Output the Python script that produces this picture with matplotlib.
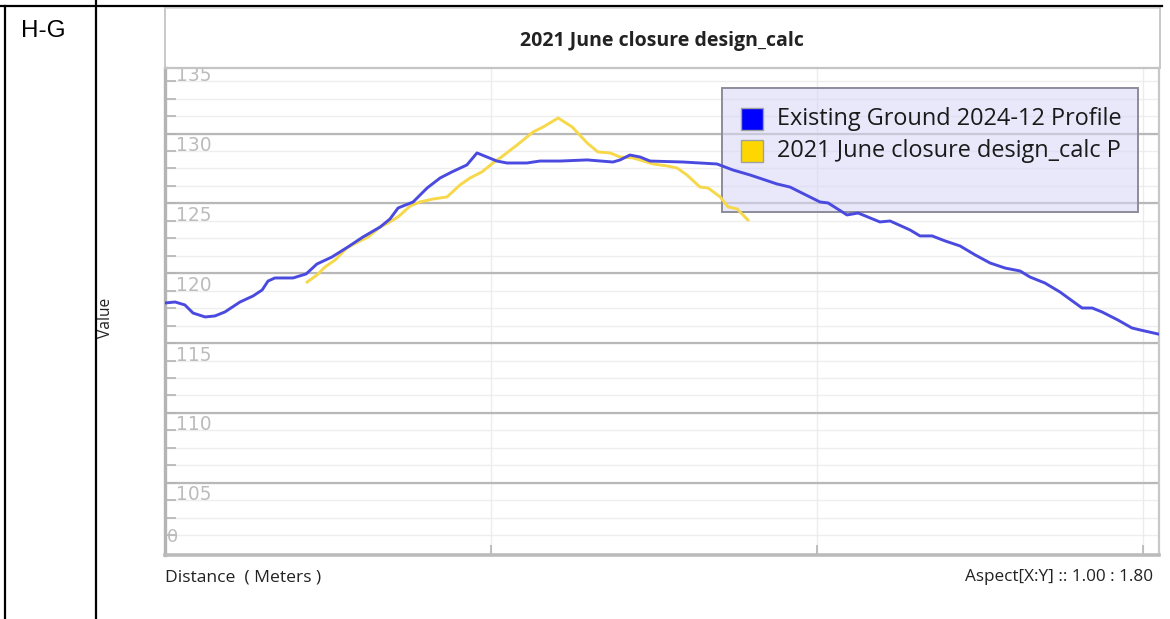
import numpy as np
import matplotlib
matplotlib.use("Agg")
import matplotlib.pyplot as plt
from matplotlib.lines import Line2D
from matplotlib.patches import Rectangle
import matplotlib.transforms as mtransforms

# profile data (distance m, elevation)
dist_eg = [0.0, 3.1, 6.1, 8.6, 12.3, 15.3, 18.4, 23.0, 27.0, 29.8, 31.6, 33.7, 39.3, 43.3,
           46.6, 51.2, 56.1, 60.7, 66.0, 69.0, 71.5, 76.1, 80.4, 84.4, 88.0, 92.6, 95.7,
           101.8, 104.9, 111.0, 115.0, 121.2, 129.5, 137.4, 139.6, 142.6, 145.7, 148.8,
           158.9, 169.3, 174.2, 179.5, 187.7, 191.7, 200.9, 203.4, 209.2, 212.6, 219.3,
           222.4, 228.5, 231.6, 235.3, 239.3, 243.9, 248.5, 253.1, 257.7, 262.3, 265.3,
           269.9, 274.5, 281.3, 284.4, 287.4, 292.3, 296.6, 299.1, 304.6]
elev_eg = [119.12, 119.19, 118.98, 118.40, 118.12, 118.19, 118.48, 119.19, 119.62, 120.05,
           120.69, 120.91, 120.91, 121.20, 121.91, 122.41, 123.13, 123.84, 124.56, 125.13,
           125.92, 126.35, 127.35, 128.07, 128.50, 129.00, 129.86, 129.28, 129.14, 129.14,
           129.28, 129.28, 129.36, 129.21, 129.36, 129.71, 129.57, 129.28, 129.21, 129.07,
           128.64, 128.28, 127.64, 127.42, 126.35, 126.28, 125.42, 125.56, 124.92, 124.99,
           124.35, 123.92, 123.92, 123.56, 123.20, 122.56, 121.98, 121.62, 121.41, 120.98,
           120.55, 119.91, 118.76, 118.76, 118.48, 117.90, 117.33, 117.19, 116.90]

dist_design = [43.6, 46.6, 49.1, 52.2, 55.8, 59.2, 62.3, 66.0, 68.4, 71.5, 75.2, 78.2, 82.2,
               86.5, 90.5, 93.6, 97.2, 100.6, 102.8, 108.0, 112.9, 116.0, 120.6, 124.9,
               129.5, 132.8, 136.5, 139.6, 143.6, 149.7, 154.0, 157.1, 160.1, 164.1, 166.6,
               170.3, 172.7, 175.5, 178.8]
elev_design = [120.62, 121.12, 121.70, 122.20, 123.06, 123.49, 123.84, 124.56, 124.85, 125.28,
               126.06, 126.35, 126.56, 126.71, 127.57, 128.07, 128.50, 129.14, 129.50, 130.43,
               131.36, 131.72, 132.36, 131.72, 130.57, 129.93, 129.86, 129.57, 129.50, 129.07,
               128.93, 128.78, 128.28, 127.42, 127.35, 126.71, 126.00, 125.85, 125.06]

series_names = ["Existing Ground 2024-12 Profile", "2021 June closure design_calc P"]
y_labels = [105, 110, 115, 120, 125, 130, 135]

W, H = 1170, 619
def fx(px):
    return px / W
def fy(py):
    return 1 - py / H

plt.rcParams['font.family'] = ['Open Sans', 'DejaVu Sans']
fig = plt.figure(figsize=(W / 100, H / 100), dpi=100)
ax = fig.add_axes([fx(165), fy(555), fx(1159) - fx(165), fy(68) - fy(555)])

ax.plot(dist_eg, elev_eg, color='#4a4ae0', lw=2.1, zorder=4)
ax.plot(dist_design, elev_design, color='#f6d84a', lw=2.1, zorder=3)

ax.set_xlim(0, 304.9)
ax.set_ylim(101.08, 135.94)

# grid: light every 1.25, darker every 5 (offset from the labels like the original)
for v in np.arange(102.5, 135.5, 1.25):
    ax.axhline(v, color='#eeeeee', lw=1.0, zorder=0)
for v in np.arange(106.25, 135, 5):
    ax.axhline(v, color='#b8b8b8', lw=1.6, zorder=1)
for v in [100, 200, 300]:
    ax.axvline(v, color='#ececec', lw=1.0, zorder=0)

ax.set_yticks(y_labels)
ax.set_yticklabels([str(v) for v in y_labels])
ax.set_yticks(np.arange(102.5, 135.5, 1.25), minor=True)
ax.tick_params(axis='y', which='both', direction='in', length=8, width=1.2, color='#b4b4b4',
               pad=-8, labelsize=13.4, labelcolor='#bcbcbc')
for lab in ax.get_yticklabels():
    lab.set_ha('left')
    lab.set_va('baseline')
    lab.set_family('DejaVu Sans')
ax.set_xticks([100, 200, 300])
ax.set_xticklabels([])
ax.tick_params(axis='x', direction='in', length=7, width=1.2, color='#b4b4b4')

trans = mtransforms.blended_transform_factory(ax.transAxes, ax.transData)
ax.text(0.002, 102.0, "0", transform=trans, ha='left', va='baseline', fontsize=13,
        color='#bcbcbc', family='DejaVu Sans')

for side, lw, c in [('left', 2.4, '#b4b4b4'), ('bottom', 2.6, '#bbbbbb'),
                    ('top', 1.6, '#c4c4c4'), ('right', 1.6, '#c8c8c8')]:
    ax.spines[side].set_linewidth(lw)
    ax.spines[side].set_color(c)

# title frame
fig.add_artist(Line2D([fx(165), fx(165)], [fy(8), fy(68)], color='#c8c8c8', lw=1.4))
fig.add_artist(Line2D([fx(165), fx(1160)], [fy(8), fy(8)], color='#d8d8d8', lw=1.2))
fig.add_artist(Line2D([fx(1160), fx(1160)], [fy(8), fy(68)], color='#c8c8c8', lw=1.4))
fig.text(fx(662), fy(41), "2021 June closure design_calc", ha='center', va='center',
         fontsize=14, fontweight='bold', color='#222222')

# table borders
fig.add_artist(Line2D([fx(0), fx(1162)], [fy(6), fy(6)], color='black', lw=1.6))
fig.add_artist(Line2D([fx(5), fx(5)], [fy(6), fy(619)], color='black', lw=1.6))
fig.add_artist(Line2D([fx(96), fx(96)], [fy(0), fy(619)], color='black', lw=1.6))
fig.text(fx(21), fy(31), "H-G", ha='left', va='center', fontsize=17.5, family='Liberation Sans')

# legend box: sits over the grid but under the profile lines
ax.add_patch(Rectangle((fx(722), fy(212)), fx(1138) - fx(722), fy(88) - fy(212),
                       transform=fig.transFigure, facecolor='#d6d6f6', alpha=0.55,
                       edgecolor='none', zorder=2, clip_on=False))
ax.add_patch(Rectangle((fx(722), fy(212)), fx(1138) - fx(722), fy(88) - fy(212),
                       transform=fig.transFigure, facecolor='none',
                       edgecolor='#8c8c9c', lw=1.4, zorder=2.5, clip_on=False))
for i, (name, c) in enumerate(zip(series_names, ['#0000ff', '#ffd700'])):
    top = 108 + i * 32
    fig.add_artist(Rectangle((fx(741), fy(top + 22)), fx(763) - fx(741), fy(top) - fy(top + 22),
                             transform=fig.transFigure, facecolor=c, edgecolor='#a0a0a0',
                             lw=1.0, zorder=7))
    fig.text(fx(777), fy(top + 11), name, ha='left', va='center', fontsize=16.9,
             color='#1a1a1a', zorder=7)

# axis captions
fig.text(fx(106), fy(318), "Value", rotation=90, ha='center', va='center', fontsize=11.2,
         color='#222222')
fig.text(fx(165), fy(577), "Distance  ( Meters )", ha='left', va='center', fontsize=12.6,
         color='#222222')
fig.text(fx(1153), fy(577), "Aspect[X:Y] :: 1.00 : 1.80", ha='right', va='center',
         fontsize=12.3, color='#222222')

fig.savefig("out.png", dpi=100)
